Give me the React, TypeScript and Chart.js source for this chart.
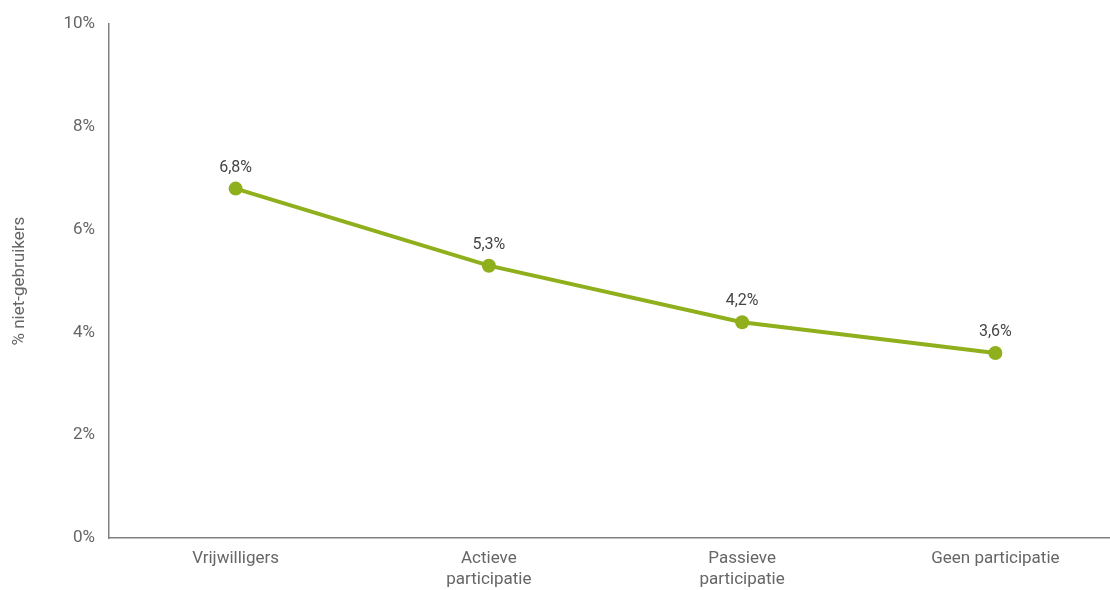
import React, { useEffect, useRef } from "react";
import { Chart, registerables } from "chart.js";

Chart.register(...registerables);

const categories: (string | string[])[] = [
  "Vrijwilligers",
  ["Actieve", "participatie"],
  ["Passieve", "participatie"],
  "Geen participatie",
];
const values: number[] = [6.8, 5.3, 4.2, 3.6];
const valueLabels: string[] = ["6,8%", "5,3%", "4,2%", "3,6%"];
const yTicks: number[] = [0, 2, 4, 6, 8, 10];
const yTitle = "% niet-gebruikers";

const FONT = "Roboto, 'Liberation Sans Narrow', sans-serif";
const GREEN = "#8fb01c";

const labelPlugin = {
  id: "valueLabels",
  afterDatasetsDraw(chart: any) {
    const meta = chart.getDatasetMeta(0);
    const ctx = chart.ctx;
    ctx.save();
    ctx.font = `16px ${FONT}`;
    ctx.fillStyle = "#454545";
    ctx.textAlign = "center";
    ctx.textBaseline = "middle";
    meta.data.forEach((pt: any, i: number) => {
      ctx.fillText(valueLabels[i], pt.x, pt.y - 21);
    });
    ctx.restore();
  },
};

export default function App() {
  const ref = useRef<HTMLCanvasElement | null>(null);
  useEffect(() => {
    if (!ref.current) return;
    const chart = new Chart(ref.current, {
      type: "line",
      data: {
        labels: categories,
        datasets: [
          {
            data: values,
            borderColor: GREEN,
            backgroundColor: GREEN,
            borderWidth: 4,
            pointRadius: 7,
            pointHoverRadius: 7,
            pointBackgroundColor: GREEN,
            pointBorderWidth: 0,
            tension: 0,
          },
        ],
      },
      options: {
        animation: false,
        responsive: true,
        maintainAspectRatio: false,
        layout: { padding: { top: 24, left: 0, right: 0, bottom: 0 } },
        plugins: { legend: { display: false }, tooltip: { enabled: false } },
        scales: {
          x: {
            offset: true,
            grid: { display: false, drawTicks: false },
            border: { display: true, color: "#808080", width: 1.5 },
            ticks: {
              color: "#666",
              font: { family: FONT, size: 17 },
              padding: 11,
              maxRotation: 0,
              autoSkip: false,
            },
            afterFit: (s: any) => {
              s.height = 52;
            },
          },
          y: {
            min: 0,
            max: 10,
            afterBuildTicks: (s: any) => {
              s.ticks = yTicks.map((v) => ({ value: v }));
            },
            grid: { display: false, drawTicks: false },
            border: { display: true, color: "#808080", width: 1.5 },
            ticks: {
              color: "#666",
              font: { family: FONT, size: 17 },
              padding: 14,
              callback: (v: any) => `${v}%`,
            },
            title: {
              display: true,
              text: yTitle,
              color: "#666",
              font: { family: FONT, size: 17 },
              padding: { top: 10, bottom: 0 },
            },
            afterFit: (s: any) => {
              s.width = 109;
            },
          },
        },
      },
      plugins: [labelPlugin],
    });
    return () => chart.destroy();
  }, []);
  return (
    <div
      style={{
        position: "fixed",
        left: 0,
        top: 0,
        width: 1110,
        height: 590,
        overflow: "hidden",
        background: "#fff",
      }}
    >
      <div style={{ position: "relative", width: 1129, height: 590 }}>
        <canvas ref={ref} />
      </div>
    </div>
  );
}
